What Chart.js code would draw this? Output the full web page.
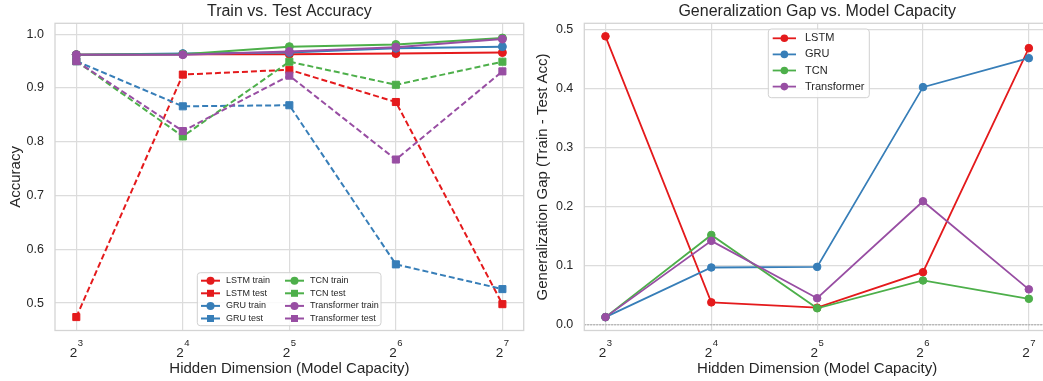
<!DOCTYPE html>
<html>
<head>
<meta charset="utf-8">
<script src="https://cdn.jsdelivr.net/npm/chart.js@4.4.0/dist/chart.umd.min.js"></script>
<style>
html, body { margin: 0; padding: 0; background: #fff; overflow: hidden; width: 1043px; height: 381px; }
#accChart { position: absolute; left: 0; top: 0; }
#gapChart { position: absolute; left: 525px; top: 0; }
</style>
</head>
<body>
<canvas id="accChart" width="530" height="381"></canvas>
<canvas id="gapChart" width="530" height="381"></canvas>
<script>
const exponents = [3, 4, 5, 6, 7];
const models = ["LSTM", "GRU", "TCN", "Transformer"];
const colors = ["#e41a1c", "#377eb8", "#4daf4a", "#984ea3"];

const lstmTrain = [0.962, 0.963, 0.963, 0.964, 0.966];
const lstmTest = [0.474, 0.925, 0.934, 0.874, 0.498];
const gruTrain = [0.962, 0.964, 0.966, 0.974, 0.977];
const gruTest = [0.950, 0.866, 0.868, 0.572, 0.526];
const tcnTrain = [0.962, 0.963, 0.977, 0.981, 0.993];
const tcnTest = [0.950, 0.810, 0.949, 0.906, 0.949];
const transformerTrain = [0.962, 0.962, 0.968, 0.976, 0.991];
const transformerTest = [0.950, 0.820, 0.923, 0.767, 0.931];

const lstmGap = [0.488, 0.038, 0.029, 0.089, 0.468];
const gruGap = [0.013, 0.097, 0.098, 0.402, 0.451];
const tcnGap = [0.013, 0.152, 0.028, 0.075, 0.044];
const transformerGap = [0.013, 0.142, 0.045, 0.209, 0.060];

const accTicks = [0.5, 0.6, 0.7, 0.8, 0.9, 1.0];
const gapTicks = [0.0, 0.1, 0.2, 0.3, 0.4, 0.5];

const FONT = "'Liberation Sans', Arial, sans-serif";
const TEXT = "#262626";
const GRID = "#dcdcdc";

// frame, zero line and the 2^n tick labels
const frame = {
    id: "frame",
    beforeDatasetsDraw(chart, args, opts) {
        const { ctx, chartArea: a } = chart;
        ctx.save();
        if (opts.zeroLine) {
            const y = chart.scales.y.getPixelForValue(0);
            ctx.strokeStyle = "#999999";
            ctx.lineWidth = 1;
            ctx.setLineDash([1.5, 1.5]);
            ctx.beginPath();
            ctx.moveTo(a.left, y);
            ctx.lineTo(a.right, y);
            ctx.stroke();
            ctx.setLineDash([]);
        }
        ctx.strokeStyle = "#d4d4d4";
        ctx.lineWidth = 1.3;
        ctx.strokeRect(a.left, a.top, a.right - a.left, a.bottom - a.top);
        ctx.restore();
    },
    afterDraw(chart) {
        const { ctx } = chart;
        const sx = chart.scales.x;
        const base = chart.chartArea.bottom + 26.2;
        ctx.save();
        ctx.fillStyle = TEXT;
        ctx.textBaseline = "alphabetic";
        ctx.textAlign = "left";
        exponents.forEach(e => {
            const x = sx.getPixelForValue(e);
            ctx.font = "13.5px " + FONT;
            const w1 = ctx.measureText("2").width;
            ctx.font = "9.5px " + FONT;
            const w2 = ctx.measureText(String(e)).width;
            const left = x - (w1 + w2 + 0.5) / 2;
            ctx.font = "13.5px " + FONT;
            ctx.fillText("2", left, base);
            ctx.font = "9.5px " + FONT;
            ctx.fillText(String(e), left + w1 + 0.5, base - 10.3);
        });
        ctx.restore();
    }
};

// legend in a box, column by column
const boxLegend = {
    id: "boxLegend",
    afterDatasetsDraw(chart, args, o) {
        if (!o.box) return;
        const { ctx } = chart;
        const ds = chart.data.datasets;
        const [bx, by, bw, bh] = o.box;
        ctx.save();
        ctx.beginPath();
        ctx.roundRect(bx, by, bw, bh, 3);
        ctx.fillStyle = "rgba(255,255,255,0.85)";
        ctx.fill();
        ctx.strokeStyle = "#d0d0d0";
        ctx.lineWidth = 1;
        ctx.stroke();
        ctx.font = o.fontSize + "px " + FONT;
        ctx.textBaseline = "middle";
        ds.forEach((d, i) => {
            const col = Math.floor(i / o.perCol);
            const row = i % o.perCol;
            const x = bx + o.padX + col * o.colW;
            const y = by + o.padY + row * o.rowH;
            ctx.strokeStyle = d.borderColor;
            ctx.lineWidth = d.borderWidth;
            ctx.beginPath();
            ctx.moveTo(x, y);
            ctx.lineTo(x + o.lineLen, y);
            ctx.stroke();
            const cx = x + o.lineLen / 2;
            ctx.fillStyle = d.borderColor;
            ctx.beginPath();
            if (d.pointStyle === "rect") {
                ctx.rect(cx - o.mark, y - o.mark, o.mark * 2, o.mark * 2);
            } else {
                ctx.arc(cx, y, o.mark + 0.5, 0, Math.PI * 2);
            }
            ctx.fill();
            ctx.fillStyle = TEXT;
            ctx.fillText(d.label, x + o.textOff, y);
        });
        ctx.restore();
    }
};

function series(label, values, color, test, radius, width) {
    return {
        label: label,
        data: exponents.map((e, i) => ({ x: e, y: values[i] })),
        borderColor: color,
        backgroundColor: color,
        pointBackgroundColor: color,
        pointBorderColor: color,
        borderWidth: width,
        borderDash: test ? [6, 3] : [],
        pointStyle: test ? "rect" : "circle",
        pointRadius: test ? 5 : radius,
        pointBorderWidth: 1,
        tension: 0
    };
}

function options(cfg) {
    return {
        responsive: false,
        animation: false,
        layout: { padding: { left: 0, right: cfg.padRight, top: 0, bottom: 0 } },
        scales: {
            x: {
                type: "linear",
                min: 2.8,
                max: 7.2,
                afterBuildTicks: s => { s.ticks = exponents.map(v => ({ value: v })); },
                afterFit: s => { s.height = 50.5; },
                grid: { color: GRID, lineWidth: 1.2, drawTicks: false },
                border: { display: false },
                ticks: { display: false },
                title: {
                    display: true,
                    text: "Hidden Dimension (Model Capacity)",
                    color: TEXT,
                    font: { family: FONT, size: 15 },
                    padding: { top: 0, bottom: 2.7 }
                }
            },
            y: {
                type: "linear",
                min: cfg.yMin,
                max: cfg.yMax,
                afterBuildTicks: s => { s.ticks = cfg.yTicks.map(v => ({ value: v })); },
                afterFit: s => { s.width = cfg.yWidth; },
                grid: { color: GRID, lineWidth: 1.2, drawTicks: false },
                border: { display: false },
                ticks: {
                    padding: 11,
                    color: TEXT,
                    font: { family: FONT, size: 12.5 },
                    callback: v => v.toFixed(1)
                },
                title: {
                    display: true,
                    text: cfg.yTitle,
                    color: TEXT,
                    font: { family: FONT, size: 15 },
                    padding: { top: cfg.yTitlePad, bottom: 0 }
                }
            }
        },
        plugins: {
            legend: { display: false },
            tooltip: { enabled: false },
            title: {
                display: true,
                text: cfg.title,
                fullSize: false,
                color: TEXT,
                font: { family: FONT, size: 16, weight: "normal" },
                padding: { top: 2, bottom: 2.1 }
            },
            frame: { zeroLine: cfg.zeroLine },
            boxLegend: cfg.legend
        }
    };
}

const accSets = [
    series("LSTM train", lstmTrain, colors[0], false, 4, 2),
    series("LSTM test", lstmTest, colors[0], true, 4, 2),
    series("GRU train", gruTrain, colors[1], false, 4, 2),
    series("GRU test", gruTest, colors[1], true, 4, 2),
    series("TCN train", tcnTrain, colors[2], false, 4, 2),
    series("TCN test", tcnTest, colors[2], true, 4, 2),
    series("Transformer train", transformerTrain, colors[3], false, 4, 2),
    series("Transformer test", transformerTest, colors[3], true, 4, 2)
];
accSets.forEach((d, i) => { d.order = accSets.length - i; });

const gapValues = [lstmGap, gruGap, tcnGap, transformerGap];
const gapSets = models.map((m, i) => series(m, gapValues[i], colors[i], false, 3.8, 1.8));
gapSets.forEach((d, i) => { d.order = gapSets.length - i; });

new Chart(document.getElementById("accChart"), {
    type: "line",
    data: { datasets: accSets },
    plugins: [frame, boxLegend],
    options: options({
        title: "Train vs. Test Accuracy",
        yTitle: "Accuracy",
        yMin: 0.449,
        yMax: 1.0204,
        yTicks: accTicks,
        yWidth: 55,
        yTitlePad: 6.8,
        padRight: 6.3,
        zeroLine: false,
        legend: {
            box: [197.3, 272.7, 183.7, 53],
            perCol: 4, padX: 3.7, padY: 8, rowH: 12.6, colW: 84,
            lineLen: 19, textOff: 25, mark: 3.5, fontSize: 9
        }
    })
});

new Chart(document.getElementById("gapChart"), {
    type: "line",
    data: { datasets: gapSets },
    plugins: [frame, boxLegend],
    options: options({
        title: "Generalization Gap vs. Model Capacity",
        yTitle: "Generalization Gap (Train - Test Acc)",
        yMin: -0.0096,
        yMax: 0.510,
        yTicks: gapTicks,
        yWidth: 59.3,
        yTitlePad: 9,
        padRight: 0.7,
        zeroLine: true,
        legend: {
            box: [243.3, 29, 101, 68.7],
            perCol: 4, padX: 4.4, padY: 9.3, rowH: 16.1, colW: 0,
            lineLen: 23.3, textOff: 32.3, mark: 3.3, fontSize: 11
        }
    })
});
</script>
</body>
</html>
